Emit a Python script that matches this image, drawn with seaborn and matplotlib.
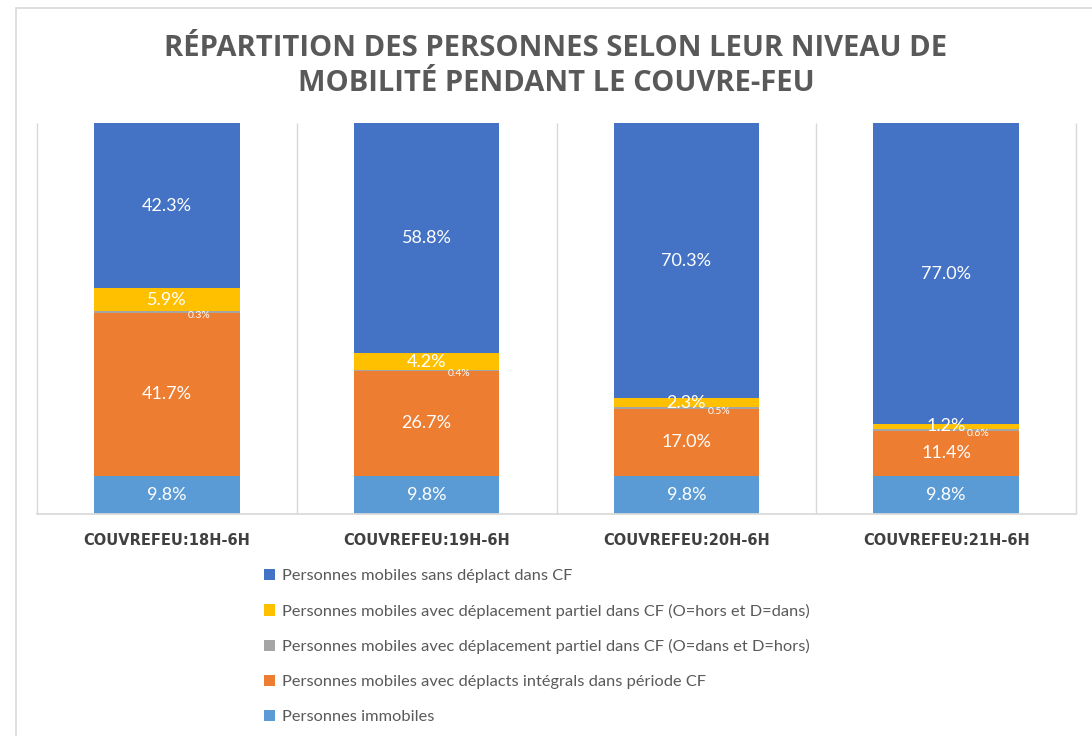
import matplotlib
matplotlib.use("Agg")
import matplotlib.pyplot as plt
import numpy as np
import seaborn as sns
from matplotlib.patches import Patch, Rectangle

categories = ["COUVREFEU:18H-6H", "COUVREFEU:19H-6H", "COUVREFEU:20H-6H", "COUVREFEU:21H-6H"]

# stacked from the bottom up
immobiles = [9.8, 9.8, 9.8, 9.8]
integrals = [41.7, 26.7, 17.0, 11.4]
partiel_dans_hors = [0.3, 0.4, 0.5, 0.6]
partiel_hors_dans = [5.9, 4.2, 2.3, 1.2]
sans_deplact = [42.3, 58.8, 70.3, 77.0]

series_names = [
    "Personnes immobiles",
    "Personnes mobiles avec déplacts intégrals dans période CF",
    "Personnes mobiles avec déplacement partiel dans CF (O=dans et D=hors)",
    "Personnes mobiles avec déplacement partiel dans CF (O=hors et D=dans)",
    "Personnes mobiles sans déplact dans CF",
]
series_values = [immobiles, integrals, partiel_dans_hors, partiel_hors_dans, sans_deplact]
series_colors = ["#5B9BD5", "#ED7D31", "#A5A5A5", "#FFC000", "#4472C4"]

title = "RÉPARTITION DES PERSONNES SELON LEUR NIVEAU DE\nMOBILITÉ PENDANT LE COUVRE-FEU"

sns.set_theme(style="white")
plt.rcParams["font.family"] = ["Lato", "DejaVu Sans"]

W, H = 1092, 736
fig = plt.figure(figsize=(W / 100, H / 100), dpi=100)
ax = fig.add_axes([37 / W, 1 - 514 / H, (1076 - 37) / W, (514 - 123) / H])

bottom = np.zeros(len(categories))
for name, vals, color in zip(series_names, series_values, series_colors):
    vals = np.array(vals)
    sns.barplot(x=categories, y=vals, bottom=bottom, color=color, saturation=1,
                width=0.56, errorbar=None, linewidth=0, ax=ax)
    for i, v in enumerate(vals):
        if name.endswith("O=dans et D=hors)"):
            ax.text(i + 0.125, bottom[i] + v / 2 - 0.8, f"{v:.1f}%", color="white",
                    fontsize=7.5, ha="center", va="center")
        else:
            ax.text(i, bottom[i] + v / 2, f"{v:.1f}%", color="white",
                    fontsize=13, ha="center", va="center")
    bottom += vals

ax.set_xlim(-0.5, 3.5)
ax.set_ylim(0, 100)
ax.vlines(np.arange(-0.5, 4.0, 1.0), 0, 100, color="#D9D9D9", linewidth=1, clip_on=False, zorder=0)
for side in ["top", "right", "left"]:
    ax.spines[side].set_visible(False)
ax.spines["bottom"].set_color("#D9D9D9")
ax.set_yticks([])
ax.set_ylabel("")
ax.tick_params(axis="x", length=0, pad=14)
ax.set_xticks(range(len(categories)))
ax.set_xticklabels(categories, fontsize=10.5, fontweight="bold", color="#404040",
                   family=["DejaVu Sans", "Lato"])

fig.text(556 / W, 1 - 66 / H, title, ha="center", va="center", fontsize=21,
         fontweight="bold", color="#595959", linespacing=1.3,
         family=["Open Sans", "DejaVu Sans"])

handles = [Patch(facecolor=c, edgecolor="none") for c in series_colors][::-1]
fig.legend(handles, series_names[::-1], loc="upper left",
           bbox_to_anchor=(257 / W, 1 - 562 / H), frameon=False, fontsize=11.8,
           labelcolor="#595959", handlelength=0.7, handleheight=0.7,
           handletextpad=0.45, labelspacing=1.25, borderaxespad=0)

fig.add_artist(Rectangle((16 / W, -0.1), 1.0, 1.1 - 8 / H, transform=fig.transFigure,
                         fill=False, edgecolor="#D9D9D9", linewidth=1.2))

fig.savefig("out.png", dpi=100)
